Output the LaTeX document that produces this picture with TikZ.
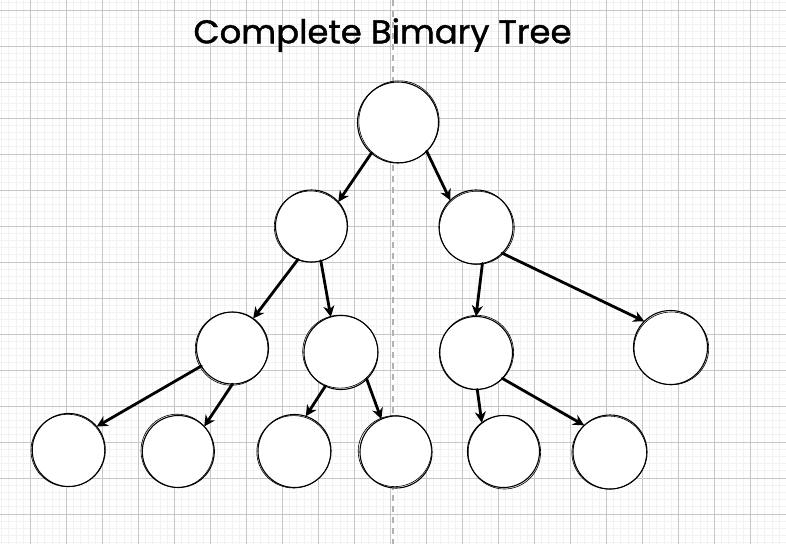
\documentclass[tikz,border=0pt]{standalone}
\usepackage{fontspec}
\newfontfamily\titlefont[FakeBold=1.2]{Poppins}
\usetikzlibrary{arrows.meta}
\begin{document}
\begin{tikzpicture}[x=1pt,y=-1pt,
  treenode/.style={circle,draw=black,line width=1.1pt,fill=white,inner sep=0pt,outer sep=0pt},
  sketchline/.style={draw=black,line width=0.6pt},
  edge/.style={line width=2.8pt,line cap=round,-{Stealth[length=11pt,width=11pt,inset=3.5pt]}},
  minorgrid/.style={draw=black!5,line width=1pt},
  majorgrid/.style={draw=black!22,line width=1pt},
  axisline/.style={draw=black!30,line width=2pt,dash pattern=on 6pt off 5pt},
  titlestyle/.style={anchor=base,inner sep=0pt}]
\useasboundingbox (0,0) rectangle (786,544);
\fill[white] (0,0) rectangle (786,544);
% grid
\foreach \k in {-4,...,104} \draw[minorgrid] ({30.5+7.2*\k},0) -- ({30.5+7.2*\k},544);
\foreach \k in {-1,...,74} \draw[minorgrid] (0,{10+7.2*\k}) -- (786,{10+7.2*\k});
\foreach \k in {0,...,20} \draw[majorgrid] ({30.5+36*\k},0) -- ({30.5+36*\k},544);
\foreach \k in {0,...,14} \draw[majorgrid] (0,{10+36*\k}) -- (786,{10+36*\k});
\coordinate (axtop) at (392.5,0);
\coordinate (axbot) at (392.5,544);
\draw[axisline] (axtop) -- (axbot);
% title
\node[titlestyle] (title) at (382.5,43.3) {\resizebox{378pt}{25pt}{\titlefont Complete Bimary Tree}};
% nodes
\node[treenode,minimum size=81pt] (root) at (398,122.5) {};
\node[treenode,minimum size=72pt] (a) at (311.5,226) {};
\node[treenode,minimum size=74pt] (b) at (476,227) {};
\node[treenode,minimum size=72pt] (aa) at (232.5,348) {};
\node[treenode,minimum size=74pt] (ab) at (341,352.5) {};
\node[treenode,minimum size=73pt] (ba) at (476,353) {};
\node[treenode,minimum size=74pt] (bb) at (670.5,347.5) {};
\node[treenode,minimum size=73pt] (aaa) at (68.7,450) {};
\node[treenode,minimum size=72pt] (aab) at (178.3,451.5) {};
\node[treenode,minimum size=73pt] (aba) at (294.5,451) {};
\node[treenode,minimum size=72pt] (abb) at (396,452) {};
\node[treenode,minimum size=72pt] (baa) at (503.5,451.5) {};
\node[treenode,minimum size=74pt] (bab) at (610,452) {};
% second sketch strokes
\draw[sketchline] ([shift={(1.0,-0.8)}]root.center) circle[x radius=40.2, y radius=40.9];
\draw[sketchline] ([shift={(-0.8,0.6)}]a.center) circle[x radius=36.4, y radius=35.6];
\draw[sketchline] ([shift={(0.9,0.8)}]b.center) circle[x radius=37.4, y radius=36.6];
\draw[sketchline] ([shift={(-0.9,0.7)}]aa.center) circle[x radius=36.3, y radius=36.6];
\draw[sketchline] ([shift={(-0.8,-0.9)}]ab.center) circle[x radius=37.5, y radius=36.5];
\draw[sketchline] ([shift={(0.8,-0.7)}]ba.center) circle[x radius=36.8, y radius=37.0];
\draw[sketchline] ([shift={(0.9,0.9)}]bb.center) circle[x radius=37.3, y radius=36.4];
\draw[sketchline] ([shift={(-0.9,0.5)}]aaa.center) circle[x radius=36.8, y radius=36.2];
\draw[sketchline] ([shift={(-1.1,-0.7)}]aab.center) circle[x radius=36.2, y radius=36.6];
\draw[sketchline] ([shift={(-0.8,0.8)}]aba.center) circle[x radius=36.9, y radius=36.2];
\draw[sketchline] ([shift={(-1.2,-0.9)}]abb.center) circle[x radius=36.6, y radius=35.5];
\draw[sketchline] ([shift={(0.9,0.7)}]baa.center) circle[x radius=36.2, y radius=36.8];
\draw[sketchline] ([shift={(-0.8,0.6)}]bab.center) circle[x radius=37.3, y radius=36.5];
% edges
\draw[edge] (root.229.5) -- (a.42);
\draw[edge] (root.315.7) -- (b.134.7);
\draw[edge] (a.248.3) -- (aa.55.6);
\draw[edge] (a.285.8) -- (ab.106.6);
\draw[edge] (b.280.5) -- (ba.90);
\draw[edge] (b.315) -- (bb.135.8);
\draw[edge] (aa.210.7) -- (aaa.40.6);
\draw[edge] (aa.270) -- (aab.44.8);
\draw[edge] (ab.245.4) -- (aba.72.6);
\draw[edge] (ab.314) -- (abb.114);
\draw[edge] (ba.272) -- (baa.127.3);
\draw[edge] (ba.316.5) -- (bab.134);
\end{tikzpicture}
\end{document}
